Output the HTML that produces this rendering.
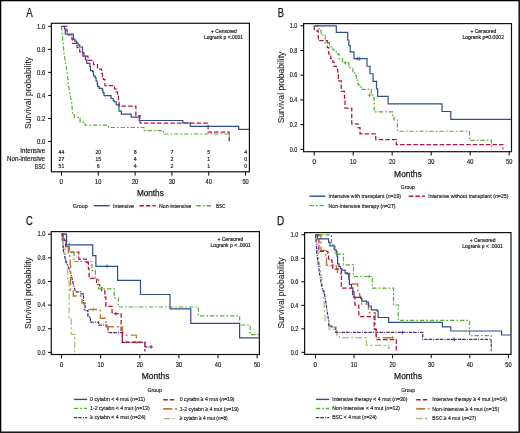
<!DOCTYPE html>
<html><head><meta charset="utf-8"><title>Survival curves</title>
<style>html,body{margin:0;padding:0;background:#fff;width:520px;height:433px;overflow:hidden}
svg{display:block;will-change:transform;font-family:"Liberation Sans", sans-serif}
text{font-family:"Liberation Sans", sans-serif;stroke:currentColor;stroke-width:0.18px}
text.b{stroke-width:0.25px}</style></head>
<body>
<svg width="520" height="433" viewBox="0 0 520 433" font-family='"Liberation Sans", sans-serif'>
<rect width="520" height="433" fill="#fff"/>
<rect x="51.40" y="23.30" width="198.00" height="148.50" fill="none" stroke="#111" stroke-width="1.2"/>
<line x1="48.20" y1="141.50" x2="51.40" y2="141.50" stroke="#000" stroke-width="1.0"/>
<text x="45.30" y="143.70" font-size="6.7" fill="#222" color="#222" text-anchor="end" textLength="8.20" lengthAdjust="spacingAndGlyphs">0.0</text>
<line x1="48.20" y1="118.46" x2="51.40" y2="118.46" stroke="#000" stroke-width="1.0"/>
<text x="45.30" y="120.66" font-size="6.7" fill="#222" color="#222" text-anchor="end" textLength="8.20" lengthAdjust="spacingAndGlyphs">0.2</text>
<line x1="48.20" y1="95.42" x2="51.40" y2="95.42" stroke="#000" stroke-width="1.0"/>
<text x="45.30" y="97.62" font-size="6.7" fill="#222" color="#222" text-anchor="end" textLength="8.20" lengthAdjust="spacingAndGlyphs">0.4</text>
<line x1="48.20" y1="72.38" x2="51.40" y2="72.38" stroke="#000" stroke-width="1.0"/>
<text x="45.30" y="74.58" font-size="6.7" fill="#222" color="#222" text-anchor="end" textLength="8.20" lengthAdjust="spacingAndGlyphs">0.6</text>
<line x1="48.20" y1="49.34" x2="51.40" y2="49.34" stroke="#000" stroke-width="1.0"/>
<text x="45.30" y="51.54" font-size="6.7" fill="#222" color="#222" text-anchor="end" textLength="8.20" lengthAdjust="spacingAndGlyphs">0.8</text>
<line x1="48.20" y1="26.30" x2="51.40" y2="26.30" stroke="#000" stroke-width="1.0"/>
<text x="45.30" y="28.50" font-size="6.7" fill="#222" color="#222" text-anchor="end" textLength="8.20" lengthAdjust="spacingAndGlyphs">1.0</text>
<line x1="61.40" y1="171.80" x2="61.40" y2="175.60" stroke="#000" stroke-width="1.0"/>
<text x="61.40" y="183.80" font-size="6.7" fill="#222" color="#222" text-anchor="middle" textLength="3.60" lengthAdjust="spacingAndGlyphs">0</text>
<line x1="98.24" y1="171.80" x2="98.24" y2="175.60" stroke="#000" stroke-width="1.0"/>
<text x="98.24" y="183.80" font-size="6.7" fill="#222" color="#222" text-anchor="middle" textLength="6.30" lengthAdjust="spacingAndGlyphs">10</text>
<line x1="135.08" y1="171.80" x2="135.08" y2="175.60" stroke="#000" stroke-width="1.0"/>
<text x="135.08" y="183.80" font-size="6.7" fill="#222" color="#222" text-anchor="middle" textLength="6.30" lengthAdjust="spacingAndGlyphs">20</text>
<line x1="171.92" y1="171.80" x2="171.92" y2="175.60" stroke="#000" stroke-width="1.0"/>
<text x="171.92" y="183.80" font-size="6.7" fill="#222" color="#222" text-anchor="middle" textLength="6.30" lengthAdjust="spacingAndGlyphs">30</text>
<line x1="208.76" y1="171.80" x2="208.76" y2="175.60" stroke="#000" stroke-width="1.0"/>
<text x="208.76" y="183.80" font-size="6.7" fill="#222" color="#222" text-anchor="middle" textLength="6.30" lengthAdjust="spacingAndGlyphs">40</text>
<line x1="245.60" y1="171.80" x2="245.60" y2="175.60" stroke="#000" stroke-width="1.0"/>
<text x="245.60" y="183.80" font-size="6.7" fill="#222" color="#222" text-anchor="middle" textLength="6.30" lengthAdjust="spacingAndGlyphs">50</text>
<text x="136.90" y="196.20" font-size="8.7" fill="#1a1a1a" color="#1a1a1a" textLength="26.90" lengthAdjust="spacingAndGlyphs" class="b">Months</text>
<text x="31.00" y="93.00" font-size="8.9" fill="#1a1a1a" color="#1a1a1a" text-anchor="middle" textLength="72.20" lengthAdjust="spacingAndGlyphs" class="b" transform="rotate(-90 31.00 93.00)" style="stroke-width:0.08px">Survival probability</text>
<text x="26.20" y="16.50" font-size="12.0" fill="#1a1a1a" color="#1a1a1a" textLength="6.50" lengthAdjust="spacingAndGlyphs" class="b">A</text>
<text x="45.10" y="153.30" font-size="6.6" fill="#1a1a1a" color="#1a1a1a" text-anchor="end" textLength="24.80" lengthAdjust="spacingAndGlyphs">Intensive</text>
<text x="61.40" y="154.20" font-size="5.4" fill="#222" color="#222" text-anchor="middle" textLength="5.60" lengthAdjust="spacingAndGlyphs">44</text>
<text x="98.24" y="154.20" font-size="5.4" fill="#222" color="#222" text-anchor="middle" textLength="5.60" lengthAdjust="spacingAndGlyphs">20</text>
<text x="135.08" y="154.20" font-size="5.4" fill="#222" color="#222" text-anchor="middle" textLength="2.90" lengthAdjust="spacingAndGlyphs">8</text>
<text x="171.92" y="154.20" font-size="5.4" fill="#222" color="#222" text-anchor="middle" textLength="2.90" lengthAdjust="spacingAndGlyphs">7</text>
<text x="208.76" y="154.20" font-size="5.4" fill="#222" color="#222" text-anchor="middle" textLength="2.90" lengthAdjust="spacingAndGlyphs">5</text>
<text x="245.60" y="154.20" font-size="5.4" fill="#222" color="#222" text-anchor="middle" textLength="2.90" lengthAdjust="spacingAndGlyphs">4</text>
<text x="45.10" y="160.90" font-size="6.6" fill="#1a1a1a" color="#1a1a1a" text-anchor="end" textLength="38.10" lengthAdjust="spacingAndGlyphs">Non-intensive</text>
<text x="61.40" y="161.00" font-size="5.4" fill="#222" color="#222" text-anchor="middle" textLength="5.60" lengthAdjust="spacingAndGlyphs">27</text>
<text x="98.24" y="161.00" font-size="5.4" fill="#222" color="#222" text-anchor="middle" textLength="5.60" lengthAdjust="spacingAndGlyphs">15</text>
<text x="135.08" y="161.00" font-size="5.4" fill="#222" color="#222" text-anchor="middle" textLength="2.90" lengthAdjust="spacingAndGlyphs">4</text>
<text x="171.92" y="161.00" font-size="5.4" fill="#222" color="#222" text-anchor="middle" textLength="2.90" lengthAdjust="spacingAndGlyphs">2</text>
<text x="208.76" y="161.00" font-size="5.4" fill="#222" color="#222" text-anchor="middle" textLength="2.90" lengthAdjust="spacingAndGlyphs">1</text>
<text x="245.60" y="161.00" font-size="5.4" fill="#222" color="#222" text-anchor="middle" textLength="2.90" lengthAdjust="spacingAndGlyphs">0</text>
<text x="45.10" y="168.60" font-size="6.6" fill="#1a1a1a" color="#1a1a1a" text-anchor="end" textLength="10.30" lengthAdjust="spacingAndGlyphs">BSC</text>
<text x="61.40" y="167.90" font-size="5.4" fill="#222" color="#222" text-anchor="middle" textLength="5.60" lengthAdjust="spacingAndGlyphs">51</text>
<text x="98.24" y="167.90" font-size="5.4" fill="#222" color="#222" text-anchor="middle" textLength="2.90" lengthAdjust="spacingAndGlyphs">6</text>
<text x="135.08" y="167.90" font-size="5.4" fill="#222" color="#222" text-anchor="middle" textLength="2.90" lengthAdjust="spacingAndGlyphs">4</text>
<text x="171.92" y="167.90" font-size="5.4" fill="#222" color="#222" text-anchor="middle" textLength="2.90" lengthAdjust="spacingAndGlyphs">2</text>
<text x="208.76" y="167.90" font-size="5.4" fill="#222" color="#222" text-anchor="middle" textLength="2.90" lengthAdjust="spacingAndGlyphs">1</text>
<text x="245.60" y="167.90" font-size="5.4" fill="#222" color="#222" text-anchor="middle" textLength="2.90" lengthAdjust="spacingAndGlyphs">0</text>
<text x="72.80" y="208.00" font-size="6.1" fill="#222" color="#222" textLength="14.90" lengthAdjust="spacingAndGlyphs">Group</text>
<line x1="93.80" y1="205.70" x2="109.70" y2="205.70" stroke="#2f4e8b" stroke-width="1.4"/>
<text x="113.10" y="208.00" font-size="6.1" fill="#222" color="#222" textLength="20.90" lengthAdjust="spacingAndGlyphs">Intensive</text>
<line x1="139.40" y1="205.70" x2="155.70" y2="205.70" stroke="#b5133f" stroke-width="1.45" stroke-dasharray="4.5 2.1"/>
<text x="159.00" y="208.00" font-size="6.1" fill="#222" color="#222" textLength="32.20" lengthAdjust="spacingAndGlyphs">Non-intensive</text>
<line x1="196.50" y1="205.70" x2="211.50" y2="205.70" stroke="#5cab34" stroke-width="1.4" stroke-dasharray="4.4 2 1.7 1.9"/>
<text x="216.00" y="208.00" font-size="6.1" fill="#222" color="#222" textLength="9.40" lengthAdjust="spacingAndGlyphs">BSC</text>
<text x="211.10" y="32.60" font-size="5.3" fill="#1a1a1a" color="#1a1a1a" textLength="25.70" lengthAdjust="spacingAndGlyphs">+ Censored</text>
<text x="204.00" y="38.90" font-size="5.3" fill="#1a1a1a" color="#1a1a1a" textLength="39.10" lengthAdjust="spacingAndGlyphs">Logrank p &lt;.0001</text>
<path d="M61.50,26.30L62.30,35.00L63.30,45.00L64.20,55.00L65.10,60.00L66.80,70.00L68.40,84.90L70.10,94.90L71.80,103.20L72.60,114.80H74.30V117.30H78.40V118.10H80.10V122.20H83.40V123.90H85.00V125.20H108.50V127.50H144.00V130.60H163.50V134.00H229.20L229.20,139.40" fill="none" stroke="#5cab34" stroke-width="1.2" stroke-dasharray="4.4 2 1.7 1.9" stroke-linejoin="miter"/>
<path d="M62.60,26.30H66.80V30.60H67.20V34.80H71.90V39.10H72.50V43.40H77.00V47.60H79.70V51.90H83.00V56.20H88.00V60.40H93.50V64.70H97.50V69.00H101.50V73.30H102.50V76.50H103.40V79.40H105.00V85.70H114.50V88.80H115.90V91.90H117.50V96.00H118.50V99.60H119.20V106.00H135.90V115.70H140.00V123.20H208.10V132.20H229.20V141.30" fill="none" stroke="#b5133f" stroke-width="1.25" stroke-dasharray="4.5 2.1" stroke-linejoin="miter"/>
<path d="M61.40,26.30H64.50V28.90H65.30V34.10H73.30V39.20H74.90V41.15H76.50V43.10H78.10V45.05H79.70V47.00H82.50V52.60H83.93V56.17H85.37V59.73H86.80V63.30H89.90V66.40H90.40V70.60H92.50V71.60H93.50V75.80H95.10V77.90H96.10V81.00H97.20V84.10H97.70V86.70H99.20V88.30H102.30V89.80H102.90V92.70H104.00V95.60H111.00V98.50H113.30V100.80H114.40V101.90H116.20V102.50H116.30V104.80H119.00V111.20H121.40V114.10H131.20V117.20H139.30V120.50H182.80V123.00H190.30V126.40H238.70V129.40H249.00" fill="none" stroke="#2f4e8b" stroke-width="1.2" stroke-linejoin="miter"/>
<rect x="303.60" y="23.60" width="207.90" height="128.10" fill="none" stroke="#111" stroke-width="1.2"/>
<line x1="300.40" y1="149.30" x2="303.60" y2="149.30" stroke="#000" stroke-width="1.0"/>
<text x="297.30" y="151.50" font-size="6.7" fill="#222" color="#222" text-anchor="end" textLength="7.60" lengthAdjust="spacingAndGlyphs">0.0</text>
<line x1="300.40" y1="124.60" x2="303.60" y2="124.60" stroke="#000" stroke-width="1.0"/>
<text x="297.30" y="126.80" font-size="6.7" fill="#222" color="#222" text-anchor="end" textLength="7.60" lengthAdjust="spacingAndGlyphs">0.2</text>
<line x1="300.40" y1="99.90" x2="303.60" y2="99.90" stroke="#000" stroke-width="1.0"/>
<text x="297.30" y="102.10" font-size="6.7" fill="#222" color="#222" text-anchor="end" textLength="7.60" lengthAdjust="spacingAndGlyphs">0.4</text>
<line x1="300.40" y1="75.20" x2="303.60" y2="75.20" stroke="#000" stroke-width="1.0"/>
<text x="297.30" y="77.40" font-size="6.7" fill="#222" color="#222" text-anchor="end" textLength="7.60" lengthAdjust="spacingAndGlyphs">0.6</text>
<line x1="300.40" y1="50.50" x2="303.60" y2="50.50" stroke="#000" stroke-width="1.0"/>
<text x="297.30" y="52.70" font-size="6.7" fill="#222" color="#222" text-anchor="end" textLength="7.60" lengthAdjust="spacingAndGlyphs">0.8</text>
<line x1="300.40" y1="25.80" x2="303.60" y2="25.80" stroke="#000" stroke-width="1.0"/>
<text x="297.30" y="28.00" font-size="6.7" fill="#222" color="#222" text-anchor="end" textLength="7.60" lengthAdjust="spacingAndGlyphs">1.0</text>
<line x1="314.20" y1="151.70" x2="314.20" y2="155.50" stroke="#000" stroke-width="1.0"/>
<text x="314.20" y="164.20" font-size="6.7" fill="#222" color="#222" text-anchor="middle" textLength="3.60" lengthAdjust="spacingAndGlyphs">0</text>
<line x1="353.20" y1="151.70" x2="353.20" y2="155.50" stroke="#000" stroke-width="1.0"/>
<text x="353.20" y="164.20" font-size="6.7" fill="#222" color="#222" text-anchor="middle" textLength="6.30" lengthAdjust="spacingAndGlyphs">10</text>
<line x1="392.20" y1="151.70" x2="392.20" y2="155.50" stroke="#000" stroke-width="1.0"/>
<text x="392.20" y="164.20" font-size="6.7" fill="#222" color="#222" text-anchor="middle" textLength="6.30" lengthAdjust="spacingAndGlyphs">20</text>
<line x1="431.20" y1="151.70" x2="431.20" y2="155.50" stroke="#000" stroke-width="1.0"/>
<text x="431.20" y="164.20" font-size="6.7" fill="#222" color="#222" text-anchor="middle" textLength="6.30" lengthAdjust="spacingAndGlyphs">30</text>
<line x1="470.20" y1="151.70" x2="470.20" y2="155.50" stroke="#000" stroke-width="1.0"/>
<text x="470.20" y="164.20" font-size="6.7" fill="#222" color="#222" text-anchor="middle" textLength="6.30" lengthAdjust="spacingAndGlyphs">40</text>
<line x1="509.20" y1="151.70" x2="509.20" y2="155.50" stroke="#000" stroke-width="1.0"/>
<text x="509.20" y="164.20" font-size="6.7" fill="#222" color="#222" text-anchor="middle" textLength="6.30" lengthAdjust="spacingAndGlyphs">50</text>
<text x="394.10" y="176.50" font-size="8.9" fill="#1a1a1a" color="#1a1a1a" textLength="27.70" lengthAdjust="spacingAndGlyphs" class="b">Months</text>
<text x="284.30" y="87.50" font-size="8.9" fill="#1a1a1a" color="#1a1a1a" text-anchor="middle" textLength="71.70" lengthAdjust="spacingAndGlyphs" class="b" transform="rotate(-90 284.30 87.50)" style="stroke-width:0.08px">Survival probability</text>
<text x="277.80" y="16.50" font-size="12.0" fill="#1a1a1a" color="#1a1a1a" textLength="6.20" lengthAdjust="spacingAndGlyphs" class="b">B</text>
<text x="400.80" y="188.90" font-size="6.1" fill="#222" color="#222" textLength="14.00" lengthAdjust="spacingAndGlyphs">Group</text>
<line x1="309.50" y1="196.20" x2="325.40" y2="196.20" stroke="#2f4e8b" stroke-width="1.4"/>
<text x="328.60" y="198.30" font-size="6.1" fill="#222" color="#222" textLength="72.50" lengthAdjust="spacingAndGlyphs">Intensive with transplant (<tspan font-style="italic">n</tspan>=19)</text>
<line x1="408.80" y1="196.20" x2="424.90" y2="196.20" stroke="#b5133f" stroke-width="1.45" stroke-dasharray="4.5 2.1"/>
<text x="428.20" y="198.30" font-size="6.1" fill="#222" color="#222" textLength="80.30" lengthAdjust="spacingAndGlyphs">Intensive without transplant (<tspan font-style="italic">n</tspan>=25)</text>
<line x1="309.50" y1="205.60" x2="325.40" y2="205.60" stroke="#5cab34" stroke-width="1.4" stroke-dasharray="4.4 2 1.7 1.9"/>
<text x="328.60" y="207.70" font-size="6.1" fill="#222" color="#222" textLength="67.00" lengthAdjust="spacingAndGlyphs">Non-intensive therapy (<tspan font-style="italic">n</tspan>=27)</text>
<text x="483.40" y="32.60" font-size="5.3" fill="#1a1a1a" color="#1a1a1a" text-anchor="middle" textLength="25.70" lengthAdjust="spacingAndGlyphs">+ Censored</text>
<text x="462.40" y="39.00" font-size="5.3" fill="#1a1a1a" color="#1a1a1a" textLength="41.70" lengthAdjust="spacingAndGlyphs">Logrank p=0.0002</text>
<path d="M314.20,25.80V30.30H317.00V31.00H318.30V40.70H323.90H327.30V47.60H328.70V53.90H330.80V58.70H332.90V62.20H334.20V66.30H336.30V69.10H337.70V74.60H338.40V80.90H341.25V91.25H344.50V98.00H345.00V108.00H351.75V123.75H358.00V127.50H360.00V133.75H375.75V139.50H396.25V144.50H502.80V149.30" fill="none" stroke="#b5133f" stroke-width="1.25" stroke-dasharray="4.5 2.1" stroke-linejoin="miter"/>
<path d="M314.80,25.80H319.00V30.30H321.10V35.20H324.50V35.90H325.20V42.80H329.40V46.90H332.90V50.00H336.30V53.90H339.10V58.70H342.50V62.90H348.80V67.70H352.90V73.20H355.70V75.30H356.30V80.20H358.10V84.80H361.00V89.40H371.30V95.20H373.60V98.00H374.20V111.90H392.50V115.50H394.00V120.00H397.50V131.25H469.50V140.30H491.50V149.40" fill="none" stroke="#5cab34" stroke-width="1.2" stroke-dasharray="4.4 2 1.7 1.9" stroke-linejoin="miter"/>
<path d="M314.20,25.80H336.30V32.40H347.70V40.00H348.80V45.50H350.20V51.80H354.00V58.70H367.00V66.25H370.00V73.75H373.10V81.30H376.50V88.80H377.70V96.30H388.10V103.90H442.00V111.50H450.80V119.30H511.00" fill="none" stroke="#2f4e8b" stroke-width="1.2" stroke-linejoin="miter"/>
<rect x="51.25" y="231.60" width="208.15" height="122.90" fill="none" stroke="#111" stroke-width="1.2"/>
<line x1="48.05" y1="352.40" x2="51.25" y2="352.40" stroke="#000" stroke-width="1.0"/>
<text x="45.30" y="354.60" font-size="6.7" fill="#222" color="#222" text-anchor="end" textLength="7.90" lengthAdjust="spacingAndGlyphs">0.0</text>
<line x1="48.05" y1="328.76" x2="51.25" y2="328.76" stroke="#000" stroke-width="1.0"/>
<text x="45.30" y="330.96" font-size="6.7" fill="#222" color="#222" text-anchor="end" textLength="7.90" lengthAdjust="spacingAndGlyphs">0.2</text>
<line x1="48.05" y1="305.12" x2="51.25" y2="305.12" stroke="#000" stroke-width="1.0"/>
<text x="45.30" y="307.32" font-size="6.7" fill="#222" color="#222" text-anchor="end" textLength="7.90" lengthAdjust="spacingAndGlyphs">0.4</text>
<line x1="48.05" y1="281.48" x2="51.25" y2="281.48" stroke="#000" stroke-width="1.0"/>
<text x="45.30" y="283.68" font-size="6.7" fill="#222" color="#222" text-anchor="end" textLength="7.90" lengthAdjust="spacingAndGlyphs">0.6</text>
<line x1="48.05" y1="257.84" x2="51.25" y2="257.84" stroke="#000" stroke-width="1.0"/>
<text x="45.30" y="260.04" font-size="6.7" fill="#222" color="#222" text-anchor="end" textLength="7.90" lengthAdjust="spacingAndGlyphs">0.8</text>
<line x1="48.05" y1="234.20" x2="51.25" y2="234.20" stroke="#000" stroke-width="1.0"/>
<text x="45.30" y="236.40" font-size="6.7" fill="#222" color="#222" text-anchor="end" textLength="7.90" lengthAdjust="spacingAndGlyphs">1.0</text>
<line x1="61.60" y1="354.50" x2="61.60" y2="358.30" stroke="#000" stroke-width="1.0"/>
<text x="61.60" y="367.30" font-size="6.7" fill="#222" color="#222" text-anchor="middle" textLength="3.60" lengthAdjust="spacingAndGlyphs">0</text>
<line x1="100.70" y1="354.50" x2="100.70" y2="358.30" stroke="#000" stroke-width="1.0"/>
<text x="100.70" y="367.30" font-size="6.7" fill="#222" color="#222" text-anchor="middle" textLength="6.30" lengthAdjust="spacingAndGlyphs">10</text>
<line x1="139.80" y1="354.50" x2="139.80" y2="358.30" stroke="#000" stroke-width="1.0"/>
<text x="139.80" y="367.30" font-size="6.7" fill="#222" color="#222" text-anchor="middle" textLength="6.30" lengthAdjust="spacingAndGlyphs">20</text>
<line x1="178.90" y1="354.50" x2="178.90" y2="358.30" stroke="#000" stroke-width="1.0"/>
<text x="178.90" y="367.30" font-size="6.7" fill="#222" color="#222" text-anchor="middle" textLength="6.30" lengthAdjust="spacingAndGlyphs">30</text>
<line x1="218.00" y1="354.50" x2="218.00" y2="358.30" stroke="#000" stroke-width="1.0"/>
<text x="218.00" y="367.30" font-size="6.7" fill="#222" color="#222" text-anchor="middle" textLength="6.30" lengthAdjust="spacingAndGlyphs">40</text>
<line x1="257.10" y1="354.50" x2="257.10" y2="358.30" stroke="#000" stroke-width="1.0"/>
<text x="257.10" y="367.30" font-size="6.7" fill="#222" color="#222" text-anchor="middle" textLength="6.30" lengthAdjust="spacingAndGlyphs">50</text>
<text x="141.80" y="379.20" font-size="8.9" fill="#1a1a1a" color="#1a1a1a" textLength="27.70" lengthAdjust="spacingAndGlyphs" class="b">Months</text>
<text x="30.90" y="293.00" font-size="8.9" fill="#1a1a1a" color="#1a1a1a" text-anchor="middle" textLength="71.80" lengthAdjust="spacingAndGlyphs" class="b" transform="rotate(-90 30.90 293.00)" style="stroke-width:0.08px">Survival probability</text>
<text x="26.00" y="224.80" font-size="12.0" fill="#1a1a1a" color="#1a1a1a" textLength="6.70" lengthAdjust="spacingAndGlyphs" class="b">C</text>
<text x="147.40" y="391.80" font-size="6.1" fill="#222" color="#222" textLength="14.50" lengthAdjust="spacingAndGlyphs">Group</text>
<line x1="73.90" y1="399.40" x2="87.10" y2="399.40" stroke="#2f4e8b" stroke-width="1.4"/>
<text x="90.10" y="401.10" font-size="6.1" fill="#222" color="#222" textLength="55.00" lengthAdjust="spacingAndGlyphs">0 cytabn &lt; 4 mut (<tspan font-style="italic">n</tspan>=11)</text>
<line x1="73.90" y1="408.40" x2="87.10" y2="408.40" stroke="#5cab34" stroke-width="1.4" stroke-dasharray="4.4 2 1.7 1.9"/>
<text x="90.10" y="410.10" font-size="6.1" fill="#222" color="#222" textLength="59.60" lengthAdjust="spacingAndGlyphs">1-2 cytabn &lt; 4 mut (<tspan font-style="italic">n</tspan>=13)</text>
<line x1="73.90" y1="417.60" x2="87.10" y2="417.60" stroke="#4f2a7d" stroke-width="1.45" stroke-dasharray="3.3 1.0 3.5 1.2 1.0 1.2"/>
<text x="90.10" y="419.30" font-size="6.1" fill="#222" color="#222" textLength="55.50" lengthAdjust="spacingAndGlyphs">≥ cytabn &lt; 4 mut (<tspan font-style="italic">n</tspan>=24)</text>
<line x1="163.20" y1="399.70" x2="174.90" y2="399.70" stroke="#b5133f" stroke-width="1.45" stroke-dasharray="4.5 2.1"/>
<text x="179.70" y="401.40" font-size="6.1" fill="#222" color="#222" textLength="54.90" lengthAdjust="spacingAndGlyphs">0 cytabn ≥ 4 mut (<tspan font-style="italic">n</tspan>=19)</text>
<line x1="163.20" y1="408.90" x2="177.00" y2="408.90" stroke="#c07c2c" stroke-width="1.5999999999999999" stroke-dasharray="9 3 2 3"/>
<text x="179.70" y="410.60" font-size="6.1" fill="#222" color="#222" textLength="59.10" lengthAdjust="spacingAndGlyphs">1-2 cytabn ≥ 4 mut (<tspan font-style="italic">n</tspan>=19)</text>
<line x1="163.60" y1="418.60" x2="174.60" y2="418.60" stroke="#a8bd7c" stroke-width="1.45" stroke-dasharray="6.5 2.3 2.3 2.3"/>
<text x="179.70" y="420.30" font-size="6.1" fill="#222" color="#222" textLength="48.00" lengthAdjust="spacingAndGlyphs">≥ cytabn ≥ 4 mut (<tspan font-style="italic">n</tspan>=8)</text>
<text x="230.40" y="240.60" font-size="5.3" fill="#1a1a1a" color="#1a1a1a" text-anchor="middle" textLength="25.70" lengthAdjust="spacingAndGlyphs">+ Censored</text>
<text x="210.60" y="247.30" font-size="5.3" fill="#1a1a1a" color="#1a1a1a" textLength="40.30" lengthAdjust="spacingAndGlyphs">Logrank p &lt; .0001</text>
<path d="M61.60,234.20H63.50V249.00H65.50V263.80H67.50V278.60H69.10V317.80H71.20V334.40H74.70V352.40" fill="none" stroke="#a8bd7c" stroke-width="1.25" stroke-dasharray="6.5 2.3 2.3 2.3" stroke-linejoin="miter"/>
<path d="M61.60,234.20H62.20V238.30L63.50,250.80L65.60,260.40L69.10,268.80L71.20,274.30L72.50,281.20L73.50,284.50L75.50,291.80H80.80V293.90H83.50V303.20H85.10V310.50H87.90V316.80H90.40V322.00H98.60V325.10H106.90V327.10H108.00V332.60H122.20V342.30H145.00V346.90H151.20" fill="none" stroke="#4f2a7d" stroke-width="1.25" stroke-dasharray="3.3 1.0 3.5 1.2 1.0 1.2" stroke-linejoin="miter"/>
<path d="M61.60,234.20H63.00V240.40H66.00V246.60H68.40V252.80H69.80V259.00H70.20V265.20H70.60V289.70H73.30V296.00H82.00V303.00H84.00V309.50H100.30V318.20H105.90V326.80H122.50V335.10H136.40V343.00H139.50" fill="none" stroke="#c07c2c" stroke-width="1.4" stroke-dasharray="9 3 2 3" stroke-linejoin="miter"/>
<path d="M61.60,234.20H62.80V237.60H64.20V240.40H65.60V246.60H69.10V252.10H78.80V259.10H86.40V262.50H88.40V268.80H89.10V278.30H96.60V284.50H99.70V287.50H101.80V290.80H104.90V297.00H105.90V306.40H112.10V313.60H121.10V331.30H122.50V342.20H144.90V351.50" fill="none" stroke="#b5133f" stroke-width="1.25" stroke-dasharray="4.5 2.1" stroke-linejoin="miter"/>
<path d="M61.60,234.20H66.80V243.30H69.10V252.40H74.00V261.50H92.00V270.60H95.40V279.70H98.60V288.80H114.20V297.90H118.40V307.00H198.40V315.80H239.60V325.00H250.20V334.70H259.40" fill="none" stroke="#5cab34" stroke-width="1.2" stroke-dasharray="4.4 2 1.7 1.9" stroke-linejoin="miter"/>
<path d="M61.60,234.20H66.40V244.90H92.70V255.60H95.90V266.30H117.60V280.40H140.50V294.50H170.00V308.80H190.80V323.40H239.60V337.80H259.40" fill="none" stroke="#2f4e8b" stroke-width="1.2" stroke-linejoin="miter"/>
<rect x="304.60" y="232.60" width="206.40" height="121.80" fill="none" stroke="#111" stroke-width="1.2"/>
<line x1="301.40" y1="352.30" x2="304.60" y2="352.30" stroke="#000" stroke-width="1.0"/>
<text x="298.40" y="354.50" font-size="6.7" fill="#222" color="#222" text-anchor="end" textLength="7.60" lengthAdjust="spacingAndGlyphs">0.0</text>
<line x1="301.40" y1="328.80" x2="304.60" y2="328.80" stroke="#000" stroke-width="1.0"/>
<text x="298.40" y="331.00" font-size="6.7" fill="#222" color="#222" text-anchor="end" textLength="7.60" lengthAdjust="spacingAndGlyphs">0.2</text>
<line x1="301.40" y1="305.30" x2="304.60" y2="305.30" stroke="#000" stroke-width="1.0"/>
<text x="298.40" y="307.50" font-size="6.7" fill="#222" color="#222" text-anchor="end" textLength="7.60" lengthAdjust="spacingAndGlyphs">0.4</text>
<line x1="301.40" y1="281.80" x2="304.60" y2="281.80" stroke="#000" stroke-width="1.0"/>
<text x="298.40" y="284.00" font-size="6.7" fill="#222" color="#222" text-anchor="end" textLength="7.60" lengthAdjust="spacingAndGlyphs">0.6</text>
<line x1="301.40" y1="258.30" x2="304.60" y2="258.30" stroke="#000" stroke-width="1.0"/>
<text x="298.40" y="260.50" font-size="6.7" fill="#222" color="#222" text-anchor="end" textLength="7.60" lengthAdjust="spacingAndGlyphs">0.8</text>
<line x1="301.40" y1="234.80" x2="304.60" y2="234.80" stroke="#000" stroke-width="1.0"/>
<text x="298.40" y="237.00" font-size="6.7" fill="#222" color="#222" text-anchor="end" textLength="7.60" lengthAdjust="spacingAndGlyphs">1.0</text>
<line x1="315.40" y1="354.40" x2="315.40" y2="358.20" stroke="#000" stroke-width="1.0"/>
<text x="315.40" y="366.90" font-size="6.7" fill="#222" color="#222" text-anchor="middle" textLength="3.60" lengthAdjust="spacingAndGlyphs">0</text>
<line x1="354.00" y1="354.40" x2="354.00" y2="358.20" stroke="#000" stroke-width="1.0"/>
<text x="354.00" y="366.90" font-size="6.7" fill="#222" color="#222" text-anchor="middle" textLength="6.30" lengthAdjust="spacingAndGlyphs">10</text>
<line x1="392.60" y1="354.40" x2="392.60" y2="358.20" stroke="#000" stroke-width="1.0"/>
<text x="392.60" y="366.90" font-size="6.7" fill="#222" color="#222" text-anchor="middle" textLength="6.30" lengthAdjust="spacingAndGlyphs">20</text>
<line x1="431.20" y1="354.40" x2="431.20" y2="358.20" stroke="#000" stroke-width="1.0"/>
<text x="431.20" y="366.90" font-size="6.7" fill="#222" color="#222" text-anchor="middle" textLength="6.30" lengthAdjust="spacingAndGlyphs">30</text>
<line x1="469.80" y1="354.40" x2="469.80" y2="358.20" stroke="#000" stroke-width="1.0"/>
<text x="469.80" y="366.90" font-size="6.7" fill="#222" color="#222" text-anchor="middle" textLength="6.30" lengthAdjust="spacingAndGlyphs">40</text>
<line x1="508.40" y1="354.40" x2="508.40" y2="358.20" stroke="#000" stroke-width="1.0"/>
<text x="508.40" y="366.90" font-size="6.7" fill="#222" color="#222" text-anchor="middle" textLength="6.30" lengthAdjust="spacingAndGlyphs">50</text>
<text x="394.10" y="379.30" font-size="8.9" fill="#1a1a1a" color="#1a1a1a" textLength="27.80" lengthAdjust="spacingAndGlyphs" class="b">Months</text>
<text x="284.20" y="293.10" font-size="8.9" fill="#1a1a1a" color="#1a1a1a" text-anchor="middle" textLength="71.00" lengthAdjust="spacingAndGlyphs" class="b" transform="rotate(-90 284.20 293.10)" style="stroke-width:0.08px">Survival probability</text>
<text x="277.00" y="224.70" font-size="12.0" fill="#1a1a1a" color="#1a1a1a" textLength="7.25" lengthAdjust="spacingAndGlyphs" class="b">D</text>
<text x="401.20" y="391.80" font-size="6.1" fill="#222" color="#222" textLength="13.80" lengthAdjust="spacingAndGlyphs">Group</text>
<line x1="315.90" y1="399.40" x2="329.20" y2="399.40" stroke="#2f4e8b" stroke-width="1.4"/>
<text x="332.20" y="401.10" font-size="6.1" fill="#222" color="#222" textLength="75.30" lengthAdjust="spacingAndGlyphs">Intensive therapy &lt; 4 mut (<tspan font-style="italic">n</tspan>=30)</text>
<line x1="315.90" y1="408.50" x2="329.20" y2="408.50" stroke="#5cab34" stroke-width="1.4" stroke-dasharray="4.4 2 1.7 1.9"/>
<text x="332.20" y="410.20" font-size="6.1" fill="#222" color="#222" textLength="67.90" lengthAdjust="spacingAndGlyphs">Non-intensive &lt; 4 mut (<tspan font-style="italic">n</tspan>=12)</text>
<line x1="315.90" y1="417.60" x2="329.20" y2="417.60" stroke="#4f2a7d" stroke-width="1.45" stroke-dasharray="3.3 1.0 3.5 1.2 1.0 1.2"/>
<text x="332.20" y="419.30" font-size="6.1" fill="#222" color="#222" textLength="44.40" lengthAdjust="spacingAndGlyphs">BSC &lt; 4 mut (<tspan font-style="italic">n</tspan>=24)</text>
<line x1="416.20" y1="399.70" x2="427.70" y2="399.70" stroke="#b5133f" stroke-width="1.45" stroke-dasharray="4.5 2.1"/>
<text x="432.30" y="401.40" font-size="6.1" fill="#222" color="#222" textLength="74.60" lengthAdjust="spacingAndGlyphs">Intensive therapy ≥ 4 mut (<tspan font-style="italic">n</tspan>=14)</text>
<line x1="416.20" y1="408.90" x2="429.50" y2="408.90" stroke="#c07c2c" stroke-width="1.5999999999999999" stroke-dasharray="9 3 2 3"/>
<text x="432.30" y="410.60" font-size="6.1" fill="#222" color="#222" textLength="66.90" lengthAdjust="spacingAndGlyphs">Non-intensive ≥ 4 mut (<tspan font-style="italic">n</tspan>=15)</text>
<line x1="416.20" y1="418.40" x2="427.70" y2="418.40" stroke="#a8bd7c" stroke-width="1.45" stroke-dasharray="6.5 2.3 2.3 2.3"/>
<text x="432.30" y="420.10" font-size="6.1" fill="#222" color="#222" textLength="43.90" lengthAdjust="spacingAndGlyphs">BSC ≥ 4 mut (<tspan font-style="italic">n</tspan>=27)</text>
<text x="482.60" y="241.60" font-size="5.3" fill="#1a1a1a" color="#1a1a1a" text-anchor="middle" textLength="25.70" lengthAdjust="spacingAndGlyphs">+ Censored</text>
<text x="462.30" y="248.40" font-size="5.3" fill="#1a1a1a" color="#1a1a1a" textLength="40.50" lengthAdjust="spacingAndGlyphs">Logrank p &lt; .0001</text>
<path d="M315.50,234.80L317.50,245.90L318.90,259.70L320.30,269.40L321.70,277.70L322.40,286.00L323.30,293.50L324.20,305.00L325.20,320.40H328.10H329.00V329.00H333.80H336.70V334.80H339.60V337.70H366.50V345.40H388.70V348.30H390.00" fill="none" stroke="#a8bd7c" stroke-width="1.25" stroke-dasharray="6.5 2.3 2.3 2.3" stroke-linejoin="miter"/>
<path d="M315.50,234.80L316.20,243.10L316.80,252.80L318.20,263.90L319.60,273.60L321.00,281.90L322.40,290.20L324.20,291.50L326.20,305.00L328.10,317.50L329.00,326.20H331.90V327.10H335.80V331.90V332.40H422.70V339.40H491.30V351.20" fill="none" stroke="#4f2a7d" stroke-width="1.25" stroke-dasharray="3.3 1.0 3.5 1.2 1.0 1.2" stroke-linejoin="miter"/>
<path d="M315.50,234.80H320.90V250.50H325.60V258.00H326.50V265.20H331.30V266.00H336.70V269.20H337.40V273.50H349.50V284.00H357.60V290.80H358.90V292.80H359.50V296.10H360.80V298.30H361.70V304.00H368.50V312.70H373.30H375.20V330.00H376.20V337.70H392.50" fill="none" stroke="#c07c2c" stroke-width="1.4" stroke-dasharray="9 3 2 3" stroke-linejoin="miter"/>
<path d="M316.20,234.80H318.90V241.00V251.40H327.90V254.90H328.60V259.00H331.40V260.40H332.10V264.50H332.80V269.20H341.40V288.10H352.60V296.50H354.00V297.30H355.00V305.00H358.80V316.50H374.20V329.00H376.20V339.60H396.30V352.10" fill="none" stroke="#b5133f" stroke-width="1.25" stroke-dasharray="4.5 2.1" stroke-linejoin="miter"/>
<path d="M315.50,234.80H331.40V243.80H332.80V245.20H334.90V254.20H343.50V264.80H353.50V276.50H372.30V288.10H393.50V305.00H398.30V320.40H469.50V335.70H491.30V351.20" fill="none" stroke="#5cab34" stroke-width="1.2" stroke-dasharray="4.4 2 1.7 1.9" stroke-linejoin="miter"/>
<path d="M315.40,234.80H317.50V238.90H328.60V242.40H330.00V245.90H334.20V250.00H336.20V251.40H336.90V256.20H337.60V263.90H339.00V266.60H340.40V268.70H341.80V270.10H345.20V272.90H347.30V273.60H348.70V279.10H349.40V284.60H351.50V288.10H352.90V291.60H354.00V297.30H360.80V298.30H361.70V301.20H366.50V302.10H368.50V306.00H371.30V309.80H377.10V310.80H378.10V317.50H388.70V322.30H442.40V326.90H450.80V331.00H501.60V335.00H511.00" fill="none" stroke="#2f4e8b" stroke-width="1.2" stroke-linejoin="miter"/>
<path d="M357.30,56.90V60.50M355.50,58.70H359.10" stroke="#2f4e8b" stroke-width="0.9" fill="none"/>
<path d="M359.30,56.90V60.50M357.50,58.70H361.10" stroke="#2f4e8b" stroke-width="0.9" fill="none"/>
<path d="M345.50,61.10V64.70M343.70,62.90H347.30" stroke="#5cab34" stroke-width="0.9" fill="none"/>
<path d="M369.60,93.40V97.00M367.80,95.20H371.40" stroke="#5cab34" stroke-width="0.9" fill="none"/>
<path d="M107.10,264.50V268.10M105.30,266.30H108.90" stroke="#2f4e8b" stroke-width="0.9" fill="none"/>
<path d="M115.90,311.80V315.40M114.10,313.60H117.70" stroke="#b5133f" stroke-width="0.9" fill="none"/>
<path d="M151.20,345.10V348.70M149.40,346.90H153.00" stroke="#4f2a7d" stroke-width="0.9" fill="none"/>
<path d="M93.20,307.70V311.30M91.40,309.50H95.00" stroke="#c07c2c" stroke-width="0.9" fill="none"/>
<path d="M337.40,252.40V256.00M335.60,254.20H339.20" stroke="#5cab34" stroke-width="0.9" fill="none"/>
<path d="M369.00,274.70V278.30M367.20,276.50H370.80" stroke="#5cab34" stroke-width="0.9" fill="none"/>
<path d="M402.50,330.60V334.20M400.70,332.40H404.30" stroke="#4f2a7d" stroke-width="0.9" fill="none"/>
<path d="M454.30,337.60V341.20M452.50,339.40H456.10" stroke="#4f2a7d" stroke-width="0.9" fill="none"/>
<path d="M392.50,335.90V339.50M390.70,337.70H394.30" stroke="#c07c2c" stroke-width="0.9" fill="none"/>
<rect x="0.6" y="0.6" width="518.6" height="431.6" fill="none" stroke="#000" stroke-width="1.4"/>
</svg>
</body></html>
